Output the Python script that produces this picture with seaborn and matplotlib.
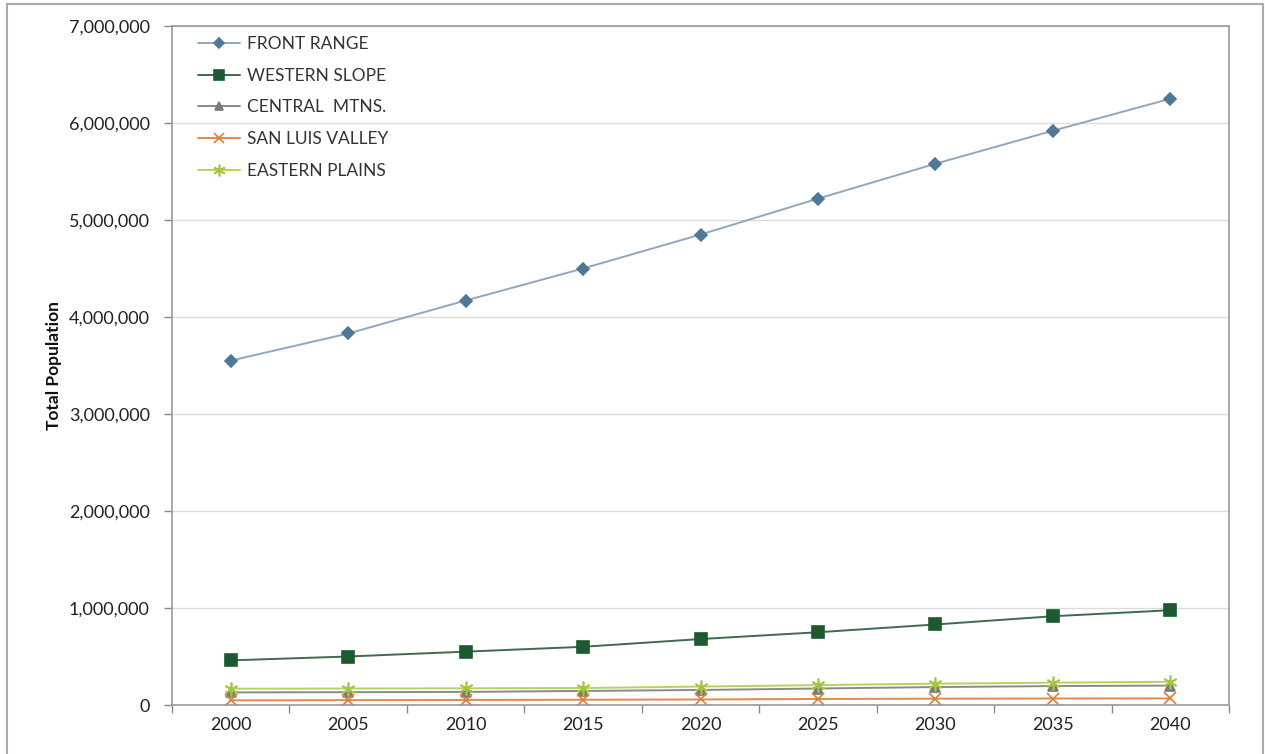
import numpy as np
import pandas as pd
import matplotlib
matplotlib.use("Agg")
import matplotlib.pyplot as plt
import matplotlib.ticker as mticker
from matplotlib.patches import Rectangle
import seaborn as sns

sns.set_theme(style="white")
plt.rcParams["font.family"] = ["Lato", "DejaVu Sans"]

# ── data ─────────────────────────────────────────────────
years = [2000, 2005, 2010, 2015, 2020, 2025, 2030, 2035, 2040]
front_range = [3550000, 3830000, 4170000, 4500000, 4850000, 5220000, 5580000, 5920000, 6250000]
western_slope = [460000, 500000, 550000, 600000, 680000, 750000, 830000, 915000, 977000]
central_mtns = [130000, 132000, 135000, 145000, 155000, 170000, 185000, 195000, 200000]
san_luis = [48000, 50000, 52000, 54000, 57000, 62000, 65000, 67000, 68000]
eastern_plains = [168000, 170000, 172000, 175000, 190000, 205000, 220000, 230000, 240000]

series = [
    ("FRONT RANGE", front_range, "#8FA8BE", "#4F7896", "D", 6),
    ("WESTERN SLOPE", western_slope, "#3F6A4E", "#1D5A30", "s", 8.5),
    ("CENTRAL  MTNS.", central_mtns, "#8A8A8A", "#7A7A7A", "^", 7.5),
    ("SAN LUIS VALLEY", san_luis, "#E4894A", "#E07B39", "x", 8.5),
    ("EASTERN PLAINS", eastern_plains, "#B5D35E", "#A4C63E", (6, 2, 0), 10),
]

fig = plt.figure(figsize=(12.65, 7.54), dpi=100)
ax = fig.add_axes([172 / 1265, 49 / 754, (1229 - 172) / 1265, (705 - 26) / 754])

for name, vals, lc, mc, mk, ms in series:
    df = pd.DataFrame({"year": years, "pop": vals})
    sns.lineplot(data=df, x="year", y="pop", ax=ax, color=lc, linewidth=1.4,
                 marker=mk, markersize=ms, markerfacecolor=mc, markeredgecolor=mc,
                 markeredgewidth=1.2, label=name)

ax.set_xlim(1997.5, 2042.5)
ax.set_ylim(0, 7000000)
ax.set_xticks(years)
ax.set_xticks(np.arange(1997.5, 2043, 5), minor=True)
ax.tick_params(axis="x", which="major", length=0, pad=9, labelsize=13, labelcolor="#222222")
ax.tick_params(axis="x", which="minor", length=6, width=1, color="#888888", direction="out", bottom=True)
ax.set_yticks(np.arange(0, 7000001, 1000000))
ax.yaxis.set_major_formatter(mticker.FuncFormatter(lambda v, p: f"{int(v):,}"))
ax.tick_params(axis="y", length=6, width=1, color="#888888", direction="out", left=True,
               labelsize=13, labelcolor="#222222", pad=10)
ax.grid(axis="y", color="#DCDCDC", linewidth=1)
ax.set_axisbelow(True)
for s in ax.spines.values():
    s.set_color("#999999")
    s.set_linewidth(1.2)

ax.set_xlabel("")
ax.set_ylabel("Total Population", fontsize=12.5, fontweight="bold", color="#111111", labelpad=5)

leg = ax.legend(loc="upper left", bbox_to_anchor=(0.01, 1.008), frameon=False, fontsize=12.5,
                handlelength=2.4, handletextpad=0.4, labelspacing=0.9, markerscale=0.85)
for t in leg.get_texts():
    t.set_color("#333333")

# outer chart frame
fig.patches.append(Rectangle((7 / 1265, -0.01), (1263 - 7) / 1265, (754 - 4) / 754 + 0.01,
                             transform=fig.transFigure, fill=False, edgecolor="#AAAAAA", linewidth=1.5))

plt.savefig("out.png", dpi=100)
plt.close()
